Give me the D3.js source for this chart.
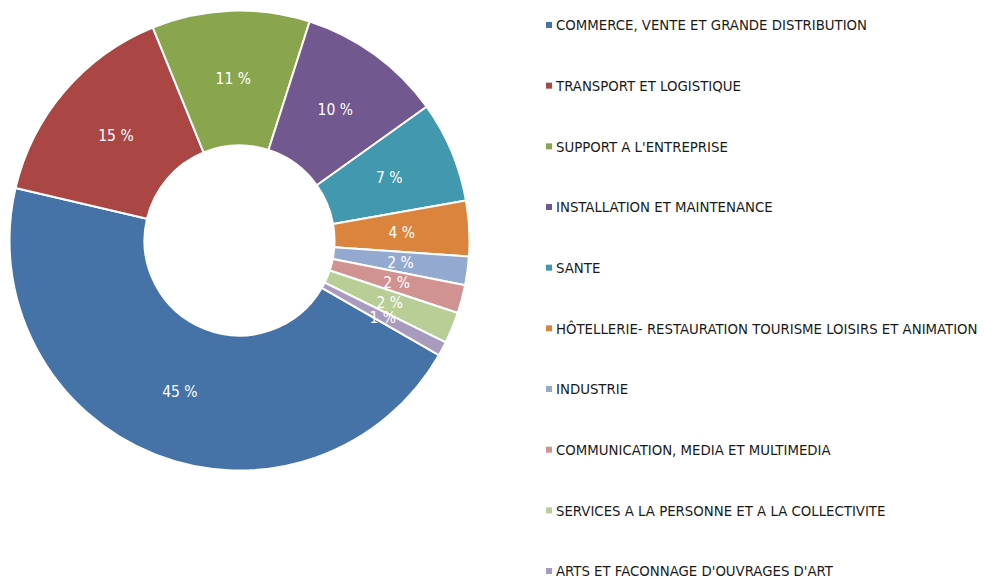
<!DOCTYPE html>
<html><head><meta charset="utf-8">
<script src="https://cdn.jsdelivr.net/npm/d3@7"></script>
<style>
html,body{margin:0;padding:0;background:#fff;}
svg{display:block;}
</style></head>
<body>
<svg id="chart" width="985" height="577"></svg>
<script>
const categories = [
  "COMMERCE, VENTE ET GRANDE DISTRIBUTION",
  "TRANSPORT ET LOGISTIQUE",
  "SUPPORT A L'ENTREPRISE",
  "INSTALLATION ET MAINTENANCE",
  "SANTE",
  "HÔTELLERIE- RESTAURATION TOURISME LOISIRS ET ANIMATION",
  "INDUSTRIE",
  "COMMUNICATION, MEDIA ET MULTIMEDIA",
  "SERVICES A LA PERSONNE ET A LA COLLECTIVITE",
  "ARTS ET FACONNAGE D'OUVRAGES D'ART"
];
const values = [45.4, 15.2, 11.1, 10.2, 7.1, 3.9, 2.0, 2.0, 2.2, 1.0];
const colors = ["#4572A7","#AA4643","#89A54E","#71588F","#4198AF","#DB843D","#93A9CF","#D19392","#B9CD96","#A99BBD"];

const svg = d3.select("#chart");
const cx = 239.5, cy = 240.5, R = 230, r = 95;
const start = 119.9 * Math.PI / 180;
const total = d3.sum(values);
const data = categories.map((c,i)=>({name:c, value:values[i], color:colors[i]}));

const pie = d3.pie().sort(null).value(d=>d.value).startAngle(start).endAngle(start + 2*Math.PI);
const arc = d3.arc().innerRadius(r).outerRadius(R);
const arcs = pie(data);

const g = svg.append("g").attr("transform", `translate(${cx},${cy})`);
g.selectAll("path").data(arcs).join("path")
  .attr("d", arc)
  .attr("fill", d=>d.data.color)
  .attr("stroke", "#fff")
  .attr("stroke-width", 2)
  .attr("stroke-linejoin", "round");

g.selectAll("text").data(arcs).join("text")
  .attr("transform", d=>`translate(${arc.centroid(d)})`)
  .attr("text-anchor", "middle")
  .attr("dy", "0.36em")
  .attr("fill", "#fff")
  .style("font-family", "'DejaVu Sans Condensed', 'DejaVu Sans', sans-serif")
  .style("font-size", "15.5px")
  .text(d=>Math.round(d.data.value/total*100) + " %");

// legend
const legendY = d3.scalePoint().domain(categories).range([25, 571]);
const lg = svg.append("g");
const items = lg.selectAll("g").data(data).join("g")
  .attr("transform", d=>`translate(546,${legendY(d.name)})`);
items.append("rect").attr("x",0).attr("y",-3).attr("width",6).attr("height",6).attr("fill", d=>d.color);
items.append("text").attr("x",10).attr("dy","0.36em")
  .attr("fill","#1a1a1a")
  .style("font-family", "'DejaVu Sans Condensed', 'DejaVu Sans', sans-serif")
  .style("font-size", "14.8px")
  .text(d=>d.name);
</script>
</body></html>
